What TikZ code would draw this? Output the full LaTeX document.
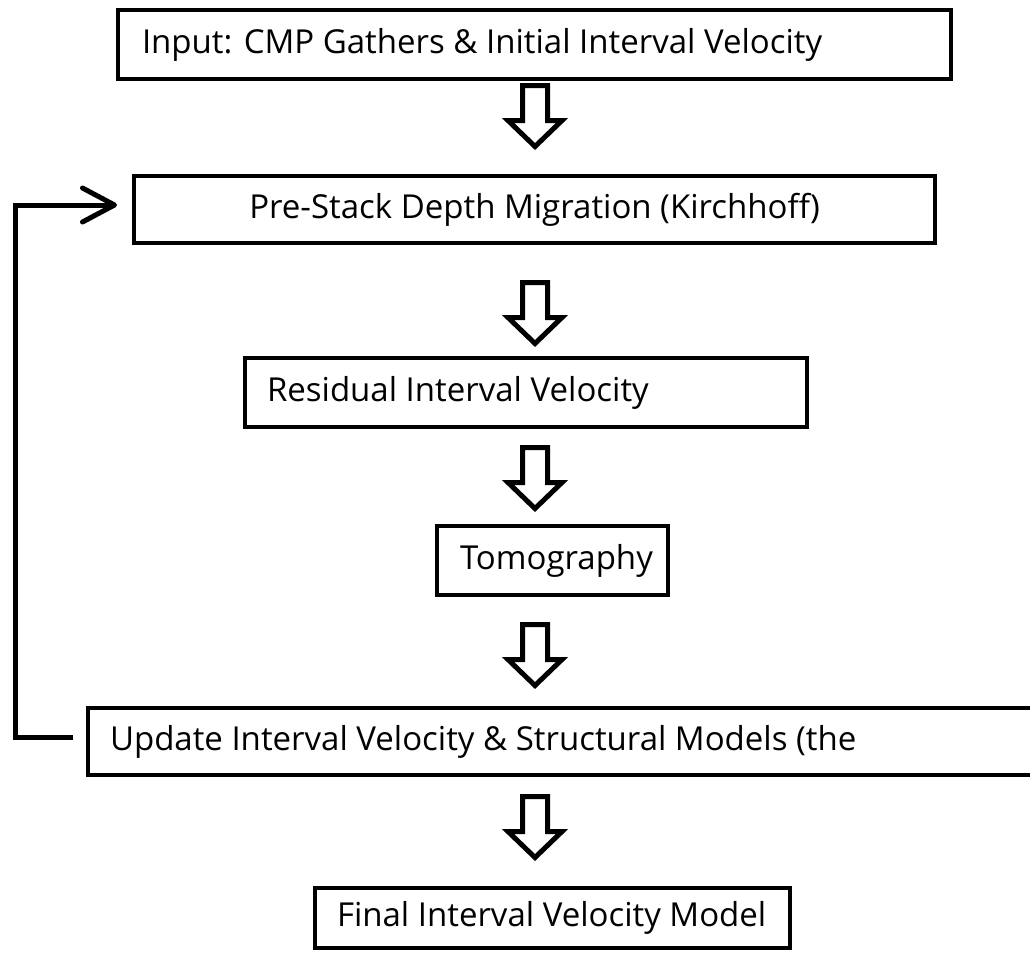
\documentclass[tikz,border=0pt]{standalone}
\usepackage{fontspec}
\setmainfont{Open Sans}
\usetikzlibrary{arrows.meta}
\newcommand\lefttext[2]{\makebox[#1][l]{#2}}
\begin{document}
\begin{tikzpicture}[x=1pt,y=1pt,
  box/.style={draw, line width=4pt, outer sep=0pt, inner ysep=0pt, anchor=north west,
    font=\fontsize{33}{38}\selectfont},
  barrow/.pic={\draw[line width=5pt, line join=miter, fill=white]
    (-12.5,0) -- (12.5,0) -- (12.5,-35) -- (27,-35) -- (0,-61) -- (-27,-35) -- (-12.5,-35) -- cycle;},
  fb/.style={line width=5pt, line join=miter, -{Straight Barb[length=32pt,width=34pt,round]}}
]
\useasboundingbox (0,0) rectangle (1030,-956);

\node[box, minimum width=833pt, minimum height=69pt, inner xsep=24pt] (in) at (118,-10)
  {\lefttext{785pt}{Input: CMP Gathers \& Initial Interval Velocity}};
\node[box, minimum width=801pt, minimum height=67pt, inner xsep=0pt] (pre) at (134,-176)
  {Pre-Stack Depth Migration (Kirchhoff)};
\node[box, minimum width=562pt, minimum height=69pt, inner xsep=22pt] (res) at (245,-358)
  {\lefttext{518pt}{Residual Interval Velocity}};
\node[box, minimum width=231pt, minimum height=69pt, inner xsep=23pt] (tom) at (437,-526)
  {\lefttext{185pt}{Tomography}};
\node[box, minimum width=957pt, minimum height=67pt, inner xsep=22pt] (upd) at (88,-708)
  {\lefttext{913pt}{Update Interval Velocity \& Structural Models (the}};
\node[box, minimum width=475pt, minimum height=60pt, inner xsep=22pt] (fin) at (315,-888)
  {\lefttext{431pt}{Final Interval Velocity Model}};

\pic at (535,-85.5) {barrow};
\pic at (535,-282.5) {barrow};
\pic at (535,-447.5) {barrow};
\pic at (535,-624.5) {barrow};
\pic at (535,-796.5) {barrow};

\coordinate (fbl) at (15,-470);
\draw[fb, shorten <=15pt, shorten >=17pt]
  ([yshift=4.5pt]upd.west) -| (fbl) |- ([yshift=4.5pt]pre.west);
\end{tikzpicture}
\end{document}
